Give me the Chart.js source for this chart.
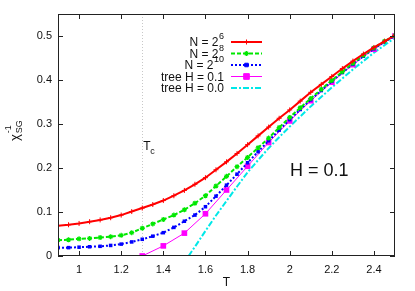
<!DOCTYPE html>
<html>
<head>
<meta charset="utf-8">
<script src="https://cdn.jsdelivr.net/npm/chart.js@4.4.1/dist/chart.umd.min.js"></script>
<style>
  body { margin: 0; background: #fff; }
  canvas { display: block; }
</style>
</head>
<body>
<canvas id="chiChart" width="415" height="291"></canvas>
<script>
// temperatures (lattice runs every 0.05, tree runs every 0.1)
const tempsFine = [0.9, 0.95, 1.0, 1.05, 1.1, 1.15, 1.2, 1.25, 1.3, 1.35, 1.4, 1.45, 1.5, 1.55, 1.6, 1.65, 1.7,
  1.75, 1.8, 1.85, 1.9, 1.95, 2.0, 2.05, 2.1, 2.15, 2.2, 2.25, 2.3, 2.35, 2.4, 2.45, 2.5];
const tempsTree = [1.3, 1.4, 1.5, 1.6, 1.7, 1.8, 1.9, 2.0, 2.1, 2.2, 2.3, 2.4, 2.5];
const tempsTreeZero = [1.52, 1.55, 1.6, 1.65, 1.7, 1.75, 1.8, 1.85, 1.9, 1.95, 2.0, 2.1, 2.2, 2.3, 2.4, 2.5];

// inverse spin-glass susceptibility
const chiN6 = [0.069, 0.071, 0.074, 0.078, 0.082, 0.087, 0.093, 0.101, 0.109, 0.117, 0.126, 0.137, 0.149, 0.163,
  0.178, 0.196, 0.214, 0.233, 0.253, 0.273, 0.293, 0.313, 0.332, 0.352, 0.372, 0.390, 0.408, 0.426, 0.443,
  0.459, 0.474, 0.488, 0.502];
const chiN8 = [0.036, 0.037, 0.039, 0.040, 0.042, 0.044, 0.047, 0.053, 0.063, 0.073, 0.083, 0.093, 0.105, 0.120,
  0.137, 0.159, 0.181, 0.203, 0.224, 0.246, 0.268, 0.292, 0.315, 0.337, 0.358, 0.379, 0.399, 0.419, 0.438,
  0.456, 0.473, 0.488, 0.501];
const chiN10 = [0.019, 0.019, 0.020, 0.021, 0.022, 0.024, 0.027, 0.032, 0.038, 0.045, 0.053, 0.065, 0.079, 0.093,
  0.112, 0.136, 0.161, 0.186, 0.212, 0.237, 0.262, 0.286, 0.310, 0.333, 0.355, 0.376, 0.397, 0.417, 0.436,
  0.454, 0.471, 0.487, 0.500];
const chiTree01 = [0.0, 0.023, 0.052, 0.096, 0.150, 0.204, 0.258, 0.307, 0.353, 0.395, 0.435, 0.470, 0.500];
const chiTree00 = [0.0, 0.021, 0.057, 0.092, 0.125, 0.158, 0.190, 0.218, 0.245, 0.270, 0.294, 0.340, 0.383,
  0.424, 0.462, 0.496];

const seriesLabels = ['N = 2^6', 'N = 2^8', 'N = 2^10', 'tree H = 0.1', 'tree H = 0.0'];
const xTickValues = [1.0, 1.2, 1.4, 1.6, 1.8, 2.0, 2.2, 2.4];
const yTickValues = [0, 0.1, 0.2, 0.3, 0.4, 0.5];
const tcValue = 1.3;

const FONT = '"Liberation Sans", Arial, Helvetica, sans-serif';

function pts(xs, ys) {
  return xs.map((x, i) => ({ x: x, y: ys[i] }));
}

function fmt(v) {
  return String(Math.round(v * 10) / 10);
}

const datasets = [
  { label: seriesLabels[0], data: pts(tempsFine, chiN6), borderColor: '#ff0000', backgroundColor: '#ff0000',
    borderWidth: 2, pointStyle: 'cross', pointRadius: 2.5, pointBorderWidth: 1 },
  { label: seriesLabels[1], data: pts(tempsFine, chiN8), borderColor: '#00e800', backgroundColor: '#00e800',
    borderWidth: 2, borderDash: [4, 2], pointStyle: 'star', pointRadius: 2.5, pointBorderWidth: 1.2 },
  { label: seriesLabels[2], data: pts(tempsFine, chiN10), borderColor: '#0000ff', backgroundColor: '#0000ff',
    borderWidth: 2, borderDash: [2, 2], pointStyle: 'rect', pointRadius: 2.5, pointBorderWidth: 0 },
  { label: seriesLabels[3], data: pts(tempsTree, chiTree01), borderColor: '#ff00ff', backgroundColor: '#ff00ff',
    borderWidth: 1, pointStyle: 'rect', pointRadius: 4, pointBorderWidth: 0 },
  { label: seriesLabels[4], data: pts(tempsTreeZero, chiTree00), borderColor: '#00e8e8', backgroundColor: '#00e8e8',
    borderWidth: 2, borderDash: [6, 2, 2, 2], pointRadius: 0 },
];

// frame, inward ticks, Tc marker, legend, y title, H label
const decorations = {
  id: 'decorations',
  beforeDatasetsDraw(chart) {
    const ctx = chart.ctx;
    const area = chart.chartArea;
    const xs = chart.scales.x;
    const tx = Math.round(xs.getPixelForValue(tcValue)) + 0.5;
    ctx.save();
    ctx.strokeStyle = '#c8c8c8';
    ctx.lineWidth = 1;
    ctx.setLineDash([1, 2]);
    ctx.beginPath();
    ctx.moveTo(tx, area.top);
    ctx.lineTo(tx, area.bottom);
    ctx.stroke();
    ctx.restore();
  },
  afterDraw(chart) {
    const ctx = chart.ctx;
    const area = chart.chartArea;
    const xs = chart.scales.x;
    const ys = chart.scales.y;
    ctx.save();

    // frame
    ctx.strokeStyle = '#222';
    ctx.lineWidth = 1;
    ctx.strokeRect(Math.round(area.left) + 0.5, Math.round(area.top) + 0.5,
      Math.round(area.right - area.left) - 1, Math.round(area.bottom - area.top) - 1);

    // ticks pointing into the plot
    ctx.beginPath();
    xTickValues.forEach((v) => {
      const px = Math.round(xs.getPixelForValue(v)) + 0.5;
      ctx.moveTo(px, area.bottom);
      ctx.lineTo(px, area.bottom - 5);
      ctx.moveTo(px, area.top);
      ctx.lineTo(px, area.top + 5);
    });
    yTickValues.forEach((v) => {
      const py = Math.round(ys.getPixelForValue(v)) + 0.5;
      ctx.moveTo(area.left, py);
      ctx.lineTo(area.left + 5, py);
      ctx.moveTo(area.right, py);
      ctx.lineTo(area.right - 5, py);
    });
    ctx.stroke();

    ctx.fillStyle = '#111';

    // Tc label
    const tx = xs.getPixelForValue(tcValue);
    ctx.font = '12px ' + FONT;
    ctx.textBaseline = 'alphabetic';
    ctx.textAlign = 'left';
    ctx.fillText('T', tx + 1, 150);
    ctx.font = '9px ' + FONT;
    ctx.fillText('c', tx + 8, 154);

    // H = 0.1
    ctx.font = '18px ' + FONT;
    ctx.fillText('H = 0.1', 290, 176);

    // y title: chi_SG^-1
    ctx.save();
    ctx.translate(19, 141);
    ctx.rotate(-Math.PI / 2);
    ctx.font = '13px ' + FONT;
    ctx.fillText('\u03c7', 0, 0);
    const cw = ctx.measureText('\u03c7').width;
    ctx.font = '9px ' + FONT;
    ctx.fillText('SG', cw + 1, 3);
    ctx.fillText('-1', cw + 1, -8);
    ctx.restore();

    // legend
    const rowY = [42, 53.5, 65, 76.5, 88];
    const textRight = 224;
    const lineL = 231;
    const lineR = 262;
    chart.data.datasets.forEach((ds, i) => {
      const y = rowY[i];
      const label = ds.label;
      ctx.fillStyle = '#111';
      ctx.textAlign = 'right';
      ctx.textBaseline = 'middle';
      const m = label.match(/^(.*)\^(\d+)$/);
      if (m) {
        ctx.font = '9px ' + FONT;
        const sw = ctx.measureText(m[2]).width;
        ctx.fillText(m[2], textRight, y - 5);
        ctx.font = '12px ' + FONT;
        ctx.fillText(m[1], textRight - sw - 0.5, y + 1);
      } else {
        ctx.font = '12px ' + FONT;
        ctx.fillText(label, textRight, y + 1);
      }
      ctx.strokeStyle = ds.borderColor;
      ctx.lineWidth = ds.borderWidth;
      ctx.setLineDash(ds.borderDash || []);
      ctx.beginPath();
      ctx.moveTo(lineL, y);
      ctx.lineTo(lineR, y);
      ctx.stroke();
      ctx.setLineDash([]);
      if (ds.pointRadius > 0) {
        ctx.fillStyle = ds.backgroundColor;
        ctx.lineWidth = ds.pointBorderWidth || 1;
        Chart.helpers.drawPoint(ctx, {
          pointStyle: ds.pointStyle, radius: ds.pointRadius, borderWidth: ds.pointBorderWidth || 1, rotation: 0,
        }, (lineL + lineR) / 2, y);
      }
    });
    ctx.restore();
  },
};

new Chart(document.getElementById('chiChart'), {
  type: 'line',
  data: { datasets: datasets },
  options: {
    responsive: false,
    animation: false,
    events: [],
    layout: { padding: { top: 14, right: 20, left: 0, bottom: 0 } },
    plugins: { legend: { display: false }, tooltip: { enabled: false } },
    elements: { line: { tension: 0 } },
    scales: {
      x: {
        type: 'linear',
        min: 0.9,
        max: 2.5,
        afterFit(scale) { scale.height = 35; },
        afterBuildTicks(scale) { scale.ticks = xTickValues.map((v) => ({ value: v })); },
        grid: { display: false, drawTicks: false },
        border: { display: false },
        ticks: { padding: 7, color: '#111', font: { family: FONT, size: 11 }, callback: (v) => fmt(v),
          maxRotation: 0, autoSkip: false },
        title: { display: true, text: 'T', color: '#111', font: { family: FONT, size: 12 },
          padding: { top: 0, bottom: 1 } },
      },
      y: {
        type: 'linear',
        min: 0,
        max: 0.55,
        afterFit(scale) { scale.width = 58; },
        afterBuildTicks(scale) { scale.ticks = yTickValues.map((v) => ({ value: v })); },
        grid: { display: false, drawTicks: false },
        border: { display: false },
        ticks: { padding: 6, color: '#111', font: { family: FONT, size: 11 }, callback: (v) => fmt(v) },
      },
    },
  },
  plugins: [decorations],
});
</script>
</body>
</html>
